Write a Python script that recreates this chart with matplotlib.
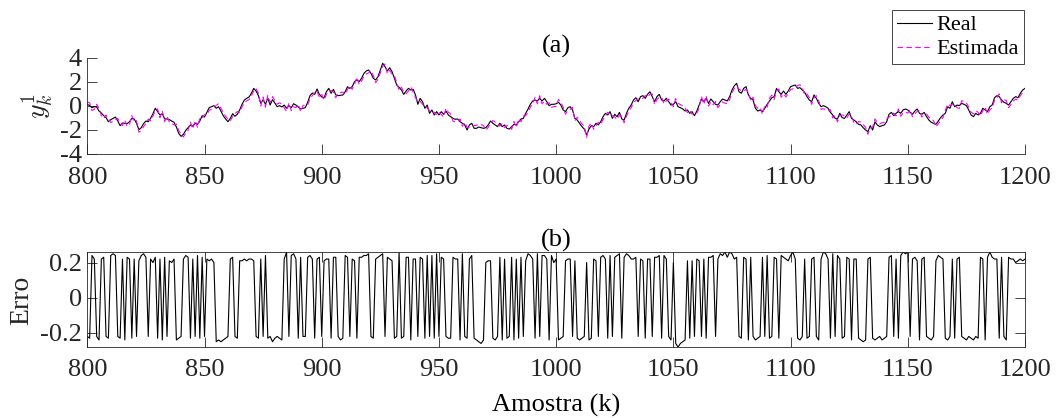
import numpy as np
import matplotlib
matplotlib.use("Agg")
import matplotlib.pyplot as plt

# Sample index
k = np.arange(800, 1201)

# Measured output y_k^1 (samples 800..1200)
real_800_900 = [
    0.14, 0.03, -0.14, -0.06, -0.08, -0.42, -0.58, -0.81, -0.97, -1.31,
    -1.14, -1.03, -0.92, -1.25, -1.64, -1.42, -1.44, -1.47, -1.31, -1.03,
    -1.08, -1.44, -1.97, -1.81, -1.47, -1.25, -1.31, -1.03, -0.64, -0.19,
    -0.47, -0.75, -0.64, -1.08, -1.08, -1.14, -1.25, -1.36, -1.75, -2.28,
    -2.53, -2.36, -2.03, -1.81, -1.58, -1.69, -1.44, -1.53, -1.25, -0.81,
    -0.92, -0.53, -0.14, -0.06, 0.03, -0.19, -0.06, -0.42, -0.81, -1.08,
    -1.31, -1.03, -0.64, -0.86, -0.69, -0.33, 0.14, 0.50, 0.64, 0.75,
    1.06, 1.47, 1.25, 0.86, 0.22, 0.53, 0.14, 0.64, 0.08, 0.53,
    0.25, -0.06, 0.03, -0.08, 0.08, -0.19, 0.03, -0.14, 0.19, 0.08,
    -0.08, -0.25, -0.19, -0.14, 0.31, 0.86, 1.08, 0.97, 1.42, 0.97,
    0.75,
]
real_901_1000 = [
    0.69, 1.19, 1.47, 1.06, 1.39, 0.92, 0.86, 0.89, 0.92, 1.19,
    1.61, 1.47, 1.61, 2.03, 2.17, 2.03, 2.31, 2.72, 2.92, 3.00,
    2.72, 2.31, 2.17, 2.44, 3.00, 3.56, 3.28, 2.92, 3.19, 2.86,
    2.31, 1.75, 1.56, 1.33, 0.97, 1.25, 1.47, 1.33, 1.39, 0.92,
    0.14, 0.64, 0.36, -0.19, 0.08, -0.61, -0.33, -0.75, -0.47, -0.75,
    -0.47, -0.69, -0.42, -0.75, -0.89, -1.03, -1.11, -1.08, -1.31, -1.44,
    -1.58, -2.00, -1.58, -1.44, -1.86, -1.86, -1.75, -1.81, -1.86, -1.81,
    -1.58, -1.25, -1.44, -1.58, -1.72, -1.44, -1.72, -1.58, -1.86, -1.92,
    -1.72, -1.53, -1.58, -1.31, -1.08, -1.03, -0.61, -0.25, 0.14, 0.42,
    0.50, 0.42, 0.64, 0.42, 0.64, 0.36, 0.03, 0.14, 0.14, 0.19,
]
real_1001_1100 = [
    0.31, 0.08, -0.33, -0.47, -0.14, -0.06, -0.33, -1.03, -1.17, -1.44,
    -1.72, -1.92, -2.42, -1.92, -1.64, -1.72, -1.44, -1.58, -1.31, -0.89,
    -0.61, -0.75, -0.47, -1.03, -0.69, -0.89, -0.53, -1.08, -1.17, -0.61,
    -0.19, 0.08, 0.50, 0.69, 0.36, 0.78, 0.86, 0.64, 0.97, 1.19,
    0.78, 0.36, 0.78, 0.97, 0.50, 0.42, 0.64, 0.36, 0.08, 0.14,
    0.36, -0.06, -0.14, -0.25, -0.42, -0.33, -0.61, -0.47, -0.81, -0.42,
    0.08, 0.58, 0.36, 0.64, 0.22, 0.58, 0.36, 0.14, 0.08, 0.36,
    0.58, 0.50, 0.42, 0.78, 1.33, 1.69, 1.89, 1.19, 1.06, 1.47,
    1.61, 0.92, 0.64, 0.50, -0.19, -0.42, -0.33, -0.47, -0.19, 0.14,
    0.42, 0.69, 0.78, 1.47, 1.19, 0.97, 1.25, 0.97, 1.25, 1.61,
]
real_1101_1200 = [
    1.69, 1.75, 1.47, 1.53, 1.33, 1.14, 0.78, 0.50, 0.36, 0.92,
    0.64, 0.22, -0.06, 0.03, -0.06, -0.19, -0.53, -0.75, -1.03, -1.08,
    -0.61, -0.97, -1.03, -0.75, -0.47, -1.03, -1.17, -1.31, -1.53, -1.58,
    -1.81, -2.00, -2.14, -1.64, -2.00, -1.31, -1.58, -1.72, -1.64, -1.58,
    -1.31, -0.69, -0.53, -0.81, -0.61, -0.47, -0.61, -0.33, -0.25, -0.33,
    -0.53, -0.69, -0.42, -0.25, -0.61, -0.69, -0.53, -0.89, -1.17, -1.36,
    -1.44, -1.53, -1.25, -0.97, -0.75, -0.61, -0.06, -0.19, 0.36, -0.06,
    0.08, 0.03, 0.22, 0.14, 0.03, -0.33, -0.75, -0.89, -0.61, -0.75,
    -0.61, -0.19, -0.33, -0.47, -0.06, 0.08, 0.69, 0.86, 0.78, 0.50,
    0.31, 0.22, 0.08, 0.36, 0.64, 0.78, 0.69, 1.06, 1.33, 1.47,
]

# Estimation error (real - estimated), samples 800..1200
erro_800_899 = [
    -0.22, -0.23, 0.24, 0.22, -0.22, -0.24, 0.22, 0.23, -0.22, -0.23,
    0.24, 0.25, 0.24, -0.22, -0.23, 0.22, -0.24, 0.23, 0.22, -0.23,
    0.22, -0.22, 0.21, 0.24, 0.25, 0.23, -0.22, 0.22, 0.20, 0.23,
    -0.23, 0.22, -0.24, 0.23, -0.22, 0.21, 0.20, 0.22, -0.24, -0.23,
    -0.22, 0.22, 0.24, 0.23, -0.23, 0.22, -0.22, 0.24, -0.23, 0.23,
    -0.22, 0.22, 0.21, 0.22, 0.20, -0.25, -0.24, -0.25, -0.24, -0.23,
    -0.22, 0.22, 0.23, -0.22, -0.23, 0.21, 0.21, 0.22, 0.21, 0.22,
    0.22, 0.21, -0.22, -0.23, 0.22, -0.22, 0.24, -0.23, -0.22, -0.25,
    -0.23, -0.22, -0.23, -0.24, 0.22, 0.26, -0.22, 0.24, 0.25, 0.22,
    -0.23, 0.23, -0.22, -0.22, 0.23, 0.24, 0.22, -0.23, 0.22, 0.23,
]
erro_900_999 = [
    -0.22, 0.21, 0.22, 0.22, -0.23, 0.23, 0.23, -0.22, -0.24, -0.23,
    0.24, 0.23, -0.22, 0.22, 0.21, -0.23, 0.23, 0.23, 0.24, 0.24,
    0.25, -0.22, -0.23, 0.22, 0.23, 0.24, 0.25, -0.22, 0.23, 0.22,
    0.21, -0.23, -0.22, 0.26, -0.23, -0.22, 0.23, 0.23, -0.24, 0.22,
    0.22, -0.22, 0.23, 0.22, -0.23, 0.24, -0.22, 0.24, -0.23, 0.25,
    -0.22, 0.23, 0.22, -0.22, -0.23, -0.23, 0.23, 0.22, 0.22, -0.24,
    0.25, -0.22, -0.23, 0.22, 0.24, -0.23, -0.24, -0.25, -0.26, -0.24,
    0.20, 0.21, 0.21, -0.23, -0.24, -0.22, 0.23, -0.24, 0.22, -0.23,
    -0.22, 0.23, -0.24, 0.22, -0.23, 0.23, -0.22, 0.21, 0.25, 0.24,
    0.22, -0.23, 0.25, -0.22, 0.24, 0.24, 0.22, -0.24, 0.24, 0.20,
]
erro_1000_1099 = [
    0.22, -0.24, -0.23, -0.22, 0.21, 0.22, 0.22, -0.22, 0.21, -0.23,
    -0.24, -0.23, -0.22, 0.20, -0.24, -0.23, 0.22, 0.21, -0.22, 0.23,
    0.24, 0.22, -0.23, 0.24, -0.22, 0.23, 0.24, 0.25, -0.23, 0.23,
    0.25, 0.24, 0.22, 0.22, 0.23, -0.22, 0.22, 0.21, -0.23, 0.22,
    0.22, -0.22, 0.23, 0.23, 0.24, -0.23, 0.24, 0.22, -0.22, -0.24,
    0.20, -0.26, -0.28, -0.26, -0.25, -0.24, 0.21, -0.23, 0.21, -0.22,
    0.22, 0.21, -0.22, 0.22, -0.23, 0.23, 0.23, 0.24, -0.22, 0.22,
    0.25, 0.24, 0.26, 0.23, 0.26, 0.25, 0.22, 0.23, -0.22, -0.23,
    0.23, 0.22, -0.24, 0.23, -0.22, -0.24, -0.23, -0.22, 0.23, -0.22,
    0.24, -0.23, -0.22, 0.23, 0.22, -0.23, 0.24, 0.23, 0.22, 0.21,
]
erro_1100_1200 = [
    0.24, 0.26, 0.22, -0.23, -0.24, -0.22, 0.22, -0.23, -0.22, 0.22,
    0.23, -0.22, -0.24, 0.22, 0.26, 0.25, 0.22, -0.23, 0.25, -0.22,
    0.24, 0.22, -0.23, -0.22, 0.23, 0.22, -0.24, 0.22, 0.22, -0.23,
    -0.24, -0.25, -0.24, 0.22, 0.23, -0.23, -0.24, -0.23, -0.22, -0.24,
    -0.23, -0.22, 0.23, 0.24, -0.22, 0.22, -0.23, 0.24, 0.26, 0.25,
    0.26, -0.22, 0.22, 0.23, 0.21, -0.24, 0.22, 0.23, -0.22, -0.23,
    -0.24, -0.22, 0.21, 0.24, 0.23, 0.22, -0.23, -0.24, -0.22, 0.22,
    -0.23, 0.22, 0.23, -0.22, -0.23, -0.24, -0.22, -0.23, -0.24, -0.22,
    -0.23, 0.23, 0.22, -0.24, 0.23, 0.26, 0.23, 0.22, 0.22, -0.23,
    0.23, -0.22, -0.24, 0.23, 0.22, 0.22, 0.20, 0.21, 0.22, 0.21,
    0.22,
]

real = np.array(real_800_900 + real_901_1000 + real_1001_1100 + real_1101_1200)
erro = np.array(erro_800_899 + erro_900_999 + erro_1000_1099 + erro_1100_1200)
estimada = real - erro

xticks = [800, 850, 900, 950, 1000, 1050, 1100, 1150, 1200]
yticks_a = [-4, -2, 0, 2, 4]
yticks_b = [-0.2, 0, 0.2]

# ---- style -----------------------------------------------------------
plt.rcParams['font.family'] = ['Liberation Serif', 'DejaVu Serif']
plt.rcParams['mathtext.fontset'] = 'cm'
plt.rcParams['axes.unicode_minus'] = False
FS = 19
AX_COLOR = '#262626'

fig = plt.figure(figsize=(10.59, 4.18), dpi=100)
W, H = 1059.0, 418.0


def px_axes(x0, y0, x1, y1):
    return fig.add_axes([x0 / W, 1 - y1 / H, (x1 - x0) / W, (y1 - y0) / H])


ax1 = px_axes(87.3, 58, 1025, 154)
ax2 = px_axes(87.3, 252, 1025, 347)

for ax in (ax1, ax2):
    ax.set_xlim(800, 1200)
    ax.set_xticks(xticks)
    ax.tick_params(direction='in', length=7, width=0.6, colors=AX_COLOR,
                   labelsize=FS, labelcolor=AX_COLOR)
    ax.tick_params(axis='x', pad=9)
    ax.tick_params(axis='y', pad=4)
    for s in ax.spines.values():
        s.set_color(AX_COLOR)
        s.set_linewidth(0.6)

# (a) real vs estimated output
ax1.plot(k, real, color='black', lw=0.8, label='Real')
ax1.plot(k, estimada, color='#ff00ff', lw=0.8, ls=(0, (5, 3)), label='Estimada')
ax1.set_ylim(-4, 4)
ax1.set_yticks(yticks_a)
ax1.spines['top'].set_visible(False)
ax1.spines['right'].set_visible(False)
ax1.set_title('(a)', fontsize=FS, pad=4)

leg = ax1.legend(loc='upper right', bbox_to_anchor=(1024 / W, 1 - 10 / H),
                 bbox_transform=fig.transFigure, fontsize=16, frameon=True,
                 fancybox=False, framealpha=1, edgecolor=AX_COLOR,
                 handlelength=1.6, handletextpad=0.2, borderpad=0.22,
                 labelspacing=0.15, borderaxespad=0)
leg.get_frame().set_linewidth(0.6)

# (b) estimation error
ax2.plot(k, erro, color='black', lw=0.8)
ax2.set_ylim(erro.min(), erro.max())
ax2.set_yticks(yticks_b)
ax2.set_yticklabels(['-0.2', '0', '0.2'])
ax2.tick_params(top=True, right=True)
ax2.set_title('(b)', fontsize=FS, pad=4)
ax2.set_xlabel('Amostra (k)', fontsize=FS, labelpad=9)

fig.text(37 / W, 1 - 106 / H, r'$y_k^1$', rotation=90, fontsize=FS + 1,
         ha='center', va='center', color=AX_COLOR)
fig.text(22 / W, 1 - 300 / H, 'Erro', rotation=90, fontsize=FS + 1,
         ha='center', va='center', color=AX_COLOR)

fig.savefig('out.png', dpi=100)
